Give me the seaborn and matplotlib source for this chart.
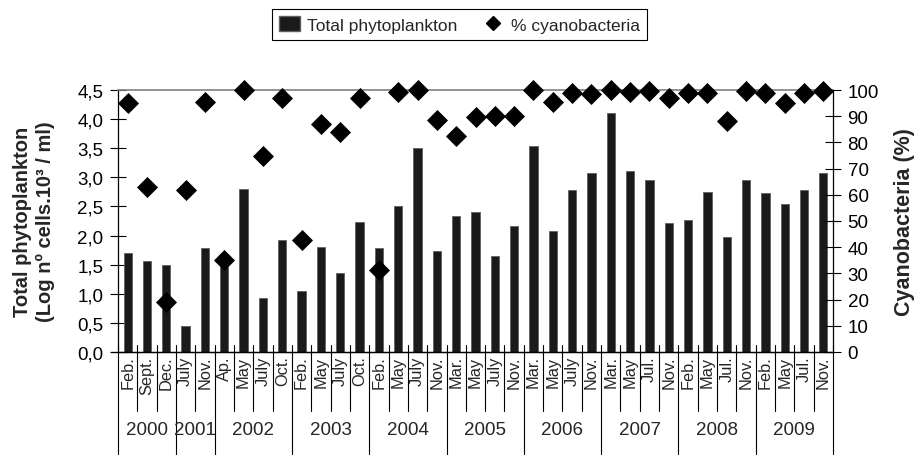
import pandas as pd
import matplotlib.pyplot as plt
import seaborn as sns
from matplotlib.ticker import FuncFormatter, MultipleLocator
from matplotlib.lines import Line2D
from matplotlib.patches import Patch
from matplotlib.transforms import blended_transform_factory

# Données
years = ["2000", "2001", "2002", "2003", "2004", "2005", "2006", "2007", "2008", "2009"]
months = [
    ["Feb.", "Sept.", "Dec."],
    ["July", "Nov."],
    ["Ap.", "May", "July", "Oct."],
    ["Feb.", "May", "July", "Oct."],
    ["Feb.", "May", "July", "Nov."],
    ["Mar.", "May", "July", "Nov."],
    ["Mar.", "May", "July", "Nov."],
    ["Mar.", "May", "Jul.", "Nov."],
    ["Feb.", "May", "Jul.", "Nov."],
    ["Feb.", "May", "Jul.", "Nov."],
]
phyto = [1.70, 1.57, 1.49, 0.44, 1.79, 1.69, 2.80, 0.93, 1.93, 1.05,
         1.81, 1.36, 2.23, 1.79, 2.50, 3.51, 1.73, 2.34, 2.40, 1.65,
         2.16, 3.53, 2.08, 2.79, 3.07, 4.10, 3.11, 2.96, 2.22, 2.27,
         2.74, 1.98, 2.95, 2.73, 2.54, 2.78, 3.07]
cyano = [95, 63, 19, 62, 95.3, 35, 100, 75, 97, 42.7,
         87, 84, 97, 31.3, 99.4, 100, 88.5, 82.6, 89.8, 89.9,
         90.2, 100, 95.4, 98.7, 98.5, 100, 99.4, 99.8, 96.8, 98.7,
         99, 88.3, 99.8, 98.7, 95, 99, 99.8]

rows = []
for y, ms in zip(years, months):
    for m in ms:
        rows.append({"year": y, "month": m, "sample": f"{y} {m}"})
data = pd.DataFrame(rows)
data["phyto"] = phyto
data["cyano"] = cyano
data["pos"] = range(len(data))

sns.set_style("white")
plt.rcParams["font.family"] = ["Liberation Sans", "DejaVu Sans"]

fig = plt.figure(figsize=(9.15, 4.56), dpi=100)
ax = fig.add_axes([118 / 915, 103 / 456, 715 / 915, 262 / 456])

sns.barplot(data=data, x="sample", y="phyto", order=list(data["sample"]), color="#1a1a1a",
            saturation=1, width=0.43, edgecolor="#606060", linewidth=0.6, errorbar=None, ax=ax)

ax2 = ax.twinx()
sns.scatterplot(x=data["pos"], y=data["cyano"], marker="D", s=115, color="black",
                edgecolor="black", linewidth=0, clip_on=False, zorder=5, ax=ax2)

ax.set_xlim(-0.5, len(data) - 0.5)
ax.set_ylim(0, 4.5)
ax2.set_ylim(0, 100)
ax.set_xticks([])
ax2.set_xticks([])
ax.set_xlabel("")
ax2.set_xlabel("")

ax.yaxis.set_major_locator(MultipleLocator(0.5))
ax.yaxis.set_major_formatter(FuncFormatter(lambda v, p: f"{v:.1f}".replace(".", ",")))
ax2.yaxis.set_major_locator(MultipleLocator(10))

ax.tick_params(axis="y", direction="inout", length=11, width=0.8, labelsize=13.5, pad=5,
               left=True, colors="black")
ax2.tick_params(axis="y", direction="inout", length=11, width=0.8, labelsize=13.5, pad=5,
                right=True, colors="black")

for s in ["left", "bottom"]:
    ax.spines[s].set_color("black")
    ax.spines[s].set_linewidth(0.9)
ax.spines["top"].set_color("#808080")
ax.spines["top"].set_linewidth(1.2)
ax.spines["right"].set_visible(False)
for s in ["left", "top", "bottom"]:
    ax2.spines[s].set_visible(False)
ax2.spines["right"].set_color("black")
ax2.spines["right"].set_linewidth(0.9)

ax.set_ylabel("Total phytoplankton\n(Log nº cells.10³ / ml)", fontsize=14.5, fontweight="bold",
              linespacing=1.25, va="center", ha="center")
ax.yaxis.set_label_coords(-0.117, 0.5)
ax2.set_ylabel("Cyanobacteria (%)", fontsize=15.5, fontweight="bold", rotation=90,
               va="center", ha="center")
ax2.yaxis.set_label_coords(1.1, 0.5)

# Axe des catégories à deux niveaux
trans = blended_transform_factory(ax.transData, ax.transAxes)
year_edges = [-0.5]
for ms in months:
    year_edges.append(year_edges[-1] + len(ms))
for b in range(len(data) + 1):
    edge = b - 0.5
    low = -0.40 if edge in year_edges else -0.225
    ax.plot([edge, edge], [0.027, low], color="black", lw=0.8, transform=trans, clip_on=False)
ax.plot([-0.85, len(data) - 0.5], [0, 0], color="black", lw=0.9, transform=trans, clip_on=False)

for i, m in zip(data["pos"], data["month"]):
    ax.text(i, -0.013, m, rotation=90, ha="center", va="top", fontsize=11.8, transform=trans)

for k, y in enumerate(years):
    center = (year_edges[k] + year_edges[k + 1]) / 2
    ax.text(center, -0.294, y, ha="center", va="center", fontsize=13.5, transform=trans)

handles = [Patch(facecolor="#1a1a1a", edgecolor="#606060"),
           Line2D([], [], marker="D", color="black", linestyle="", markersize=7.5)]
leg = fig.legend(handles, ["Total phytoplankton", "% cyanobacteria"], loc="upper center",
                 bbox_to_anchor=(0.502, 0.977), ncol=2, frameon=True, fancybox=False,
                 edgecolor="black", framealpha=1, fontsize=12.5, handlelength=1.2,
                 handleheight=0.9, handletextpad=0.4, columnspacing=1.5, borderpad=0.4,
                 borderaxespad=0)
leg.get_frame().set_linewidth(0.8)

fig.savefig("out.png", dpi=100)
